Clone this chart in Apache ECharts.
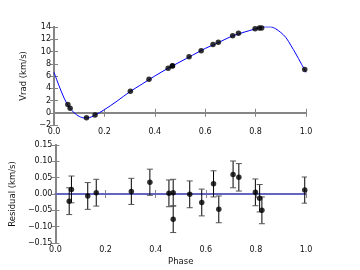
<!DOCTYPE html>
<html>
<head>
<meta charset="utf-8">
<script src="https://cdn.jsdelivr.net/npm/echarts@6/dist/echarts.min.js"></script>
<style>
html,body{margin:0;padding:0;background:#fff;}
#chart{width:360px;height:270px;}
</style>
</head>
<body>
<div id="chart"></div>
<script>
// Observations
var phase = [0.055, 0.064, 0.129, 0.163, 0.303, 0.377, 0.453, 0.470, 0.470, 0.536, 0.584, 0.631, 0.652, 0.709, 0.732, 0.798, 0.815, 0.824, 0.995];
var vrad = [1.33, 0.72, -0.80, -0.38, 3.50, 5.47, 7.28, 7.66, 7.62, 9.13, 10.12, 11.16, 11.49, 12.57, 12.96, 13.72, 13.82, 13.84, 7.07];
var residual = [-0.022, 0.014, -0.006, 0.004, 0.008, 0.036, 0.002, 0.004, -0.077, -0.001, -0.026, 0.031, -0.047, 0.060, 0.051, 0.005, -0.013, -0.050, 0.012];
var resErr = [0.041, 0.041, 0.041, 0.041, 0.040, 0.040, 0.041, 0.041, 0.041, 0.041, 0.041, 0.040, 0.041, 0.041, 0.042, 0.041, 0.042, 0.041, 0.040];
// Model curve
var curvePhase = [0.00, 0.02, 0.04, 0.06, 0.08, 0.10, 0.12, 0.14, 0.16, 0.20, 0.25, 0.30, 0.35, 0.40, 0.45, 0.50, 0.55, 0.60, 0.65, 0.70, 0.75, 0.80, 0.83, 0.86, 0.88, 0.90, 0.92, 0.94, 0.96, 0.98, 1.00];
var curveVrad = [6.6, 4.4, 2.4, 0.9, 0.0, -0.6, -0.85, -0.8, -0.45, 0.5, 1.9, 3.4, 4.7, 6.0, 7.2, 8.3, 9.4, 10.5, 11.4, 12.4, 13.1, 13.7, 14.02, 14.02, 13.7, 13.1, 12.3, 11.0, 9.6, 8.1, 6.6];
// Tick labels
var xTicks = [0.0, 0.2, 0.4, 0.6, 0.8, 1.0];
var vTicks = [-2, 0, 2, 4, 6, 8, 10, 12, 14];
var rTicks = [-0.15, -0.10, -0.05, 0.00, 0.05, 0.10, 0.15];

var FONT = 'DejaVu Sans';
var AX = '#858585';
function fmtMinus(s){ return s.replace('-', '\u2212'); }

var points = phase.map(function(p,i){ return [p, vrad[i]]; });
var resPoints = phase.map(function(p,i){ return [p, residual[i]]; });
var errData = phase.map(function(p,i){ return [p, residual[i]-resErr[i], residual[i]+resErr[i]]; });
var curve = curvePhase.map(function(p,i){ return [p, curveVrad[i]]; });

function xAxisMain(gi, showName){
  return {
    type:'value', gridIndex:gi, position:'bottom', min:xTicks[0], max:xTicks[xTicks.length-1], interval:0.2,
    axisLine:{lineStyle:{color:AX,width:2}},
    axisTick:{inside:true,length:4,lineStyle:{color:AX,width:1}},
    axisLabel:{margin:3,fontFamily:FONT,fontSize:8,color:'#111',formatter:function(v){return v.toFixed(1);}},
    splitLine:{show:false},
    name: showName ? 'Phase' : '', nameLocation:'middle', nameGap:14,
    nameTextStyle:{fontFamily:FONT,fontSize:8.5,color:'#111'}
  };
}
function xAxisTop(gi){
  return {
    type:'value', gridIndex:gi, position:'top', min:0, max:1, interval:0.2,
    axisLine:{lineStyle:{color:AX,width:2}},
    axisTick:{inside:true,length:4,lineStyle:{color:AX,width:1}},
    axisLabel:{show:false}, splitLine:{show:false}
  };
}
function yAxisMain(gi, ticks, interval, name, gap, fmt){
  return {
    type:'value', gridIndex:gi, position:'left', min:ticks[0], max:ticks[ticks.length-1], interval:interval,
    axisLine:{lineStyle:{color:AX,width:2}},
    axisTick:{inside:true,length:4,lineStyle:{color:AX,width:1}},
    axisLabel:{margin:3,fontFamily:FONT,fontSize:8,color:'#111',formatter:fmt},
    splitLine:{show:false},
    name:name, nameLocation:'middle', nameGap:gap, nameRotate:90,
    nameTextStyle:{fontFamily:FONT,fontSize:8.5,color:'#111'}
  };
}
function yAxisRight(gi, ticks, interval){
  return {
    type:'value', gridIndex:gi, position:'right', min:ticks[0], max:ticks[ticks.length-1], interval:interval,
    axisLine:{lineStyle:{color:AX,width:2}},
    axisTick:{inside:true,length:4,lineStyle:{color:AX,width:1}},
    axisLabel:{show:false}, splitLine:{show:false}
  };
}

var chart = echarts.init(document.getElementById('chart'), null, {renderer:'canvas'});
chart.setOption({
  animation:false,
  backgroundColor:'#fff',
  grid:[
    {left:54, width:252, top:27, height:98},
    {left:54, width:252, top:145, height:98}
  ],
  xAxis:[ xAxisMain(0,false), xAxisTop(0), xAxisMain(1,true), xAxisTop(1) ],
  yAxis:[
    yAxisMain(0, vTicks, 2, 'Vrad (km/s)', 16, function(v){ return fmtMinus(String(Math.round(v))); }),
    yAxisRight(0, vTicks, 2),
    yAxisMain(1, rTicks, 0.05, 'Residual (km/s)', 30, function(v){ return fmtMinus(v.toFixed(2)); }),
    yAxisRight(1, rTicks, 0.05)
  ],
  series:[
    { type:'line', xAxisIndex:0, yAxisIndex:0, data:curve, smooth:0.3, showSymbol:false, symbol:'none',
      lineStyle:{color:'#0000ff',width:1}, clip:true, z:2 },
    { type:'scatter', xAxisIndex:0, yAxisIndex:0, data:points, symbol:'circle', symbolSize:5.5,
      itemStyle:{color:'#000'}, clip:true, z:3 },
    { type:'line', xAxisIndex:2, yAxisIndex:2, data:[[0,0],[1,0]], showSymbol:false, symbol:'none',
      lineStyle:{color:'#4444ff',width:1}, z:2 },
    { type:'custom', xAxisIndex:2, yAxisIndex:2, data:errData, clip:true, z:3,
      renderItem:function(params, api){
        var x = api.value(0);
        var lo = api.coord([x, api.value(1)]);
        var hi = api.coord([x, api.value(2)]);
        var cw = 3;
        return {type:'group', children:[
          {type:'line', shape:{x1:lo[0],y1:lo[1],x2:hi[0],y2:hi[1]}, style:{stroke:'#000', lineWidth:1}},
          {type:'line', shape:{x1:lo[0]-cw,y1:lo[1],x2:lo[0]+cw,y2:lo[1]}, style:{stroke:'#555',lineWidth:1}},
          {type:'line', shape:{x1:hi[0]-cw,y1:hi[1],x2:hi[0]+cw,y2:hi[1]}, style:{stroke:'#555',lineWidth:1}}
        ]};
      }
    },
    { type:'scatter', xAxisIndex:2, yAxisIndex:2, data:resPoints, symbol:'circle', symbolSize:5.5,
      itemStyle:{color:'#000'}, clip:true, z:4 }
  ]
});
</script>
</body>
</html>
